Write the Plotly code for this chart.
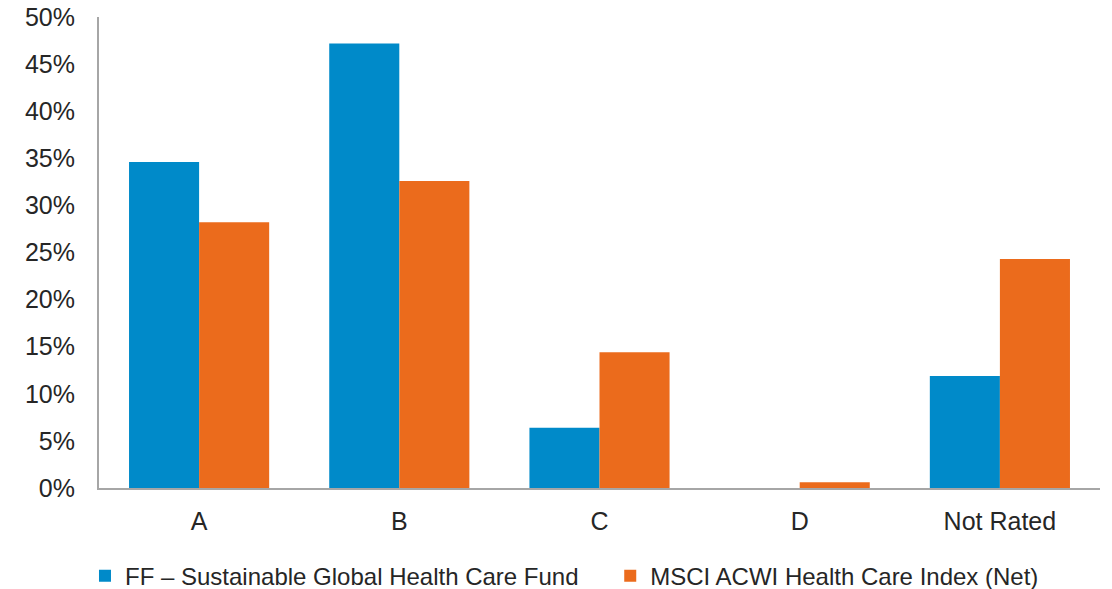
import plotly.graph_objects as go

categories = ["A", "B", "C", "D", "Not Rated"]
fund = [34.6, 47.2, 6.4, 0.0, 11.9]
index = [28.2, 32.6, 14.4, 0.6, 24.3]
series_names = ["FF – Sustainable Global Health Care Fund", "MSCI ACWI Health Care Index (Net)"]
tick_vals = [0, 5, 10, 15, 20, 25, 30, 35, 40, 45, 50]
tick_text = [f"{v}%" for v in tick_vals]

fig = go.Figure()
fig.add_bar(x=categories, y=fund, name=series_names[0] + "\u00a0" * 4,
            marker=dict(color="#008AC9", line=dict(width=0)))
fig.add_bar(x=categories, y=index, name=series_names[1],
            marker=dict(color="#EB6B1C", line=dict(width=0)))

fig.update_layout(
    width=1112, height=589,
    barmode="group", bargap=0.3, bargroupgap=0,
    plot_bgcolor="white", paper_bgcolor="white",
    margin=dict(l=99, r=12, t=17, b=101, autoexpand=False),
    font=dict(family="Liberation Sans, Arial, sans-serif", color="#262626", size=25),
    showlegend=True,
    legend=dict(orientation="h", x=-0.014, xanchor="left", y=-0.187, yanchor="middle",
                font=dict(size=24), itemwidth=30, traceorder="normal"),
    xaxis=dict(showline=True, linecolor="#A6A6A6", linewidth=2, ticks="", showgrid=False,
               tickfont=dict(size=25), ticklabelstandoff=10, automargin=False),
    yaxis=dict(range=[0, 50], tickvals=tick_vals, ticktext=tick_text, showline=True,
               linecolor="#A6A6A6", linewidth=2, showgrid=False, ticks="", zeroline=False,
               tickfont=dict(size=25), ticklabelstandoff=17, automargin=False,
               ticklabeloverflow="allow"),
)

fig.write_html("out.html", config={"displayModeBar": False},
               post_script="document.body.style.margin='0';document.body.style.overflow='hidden';")
